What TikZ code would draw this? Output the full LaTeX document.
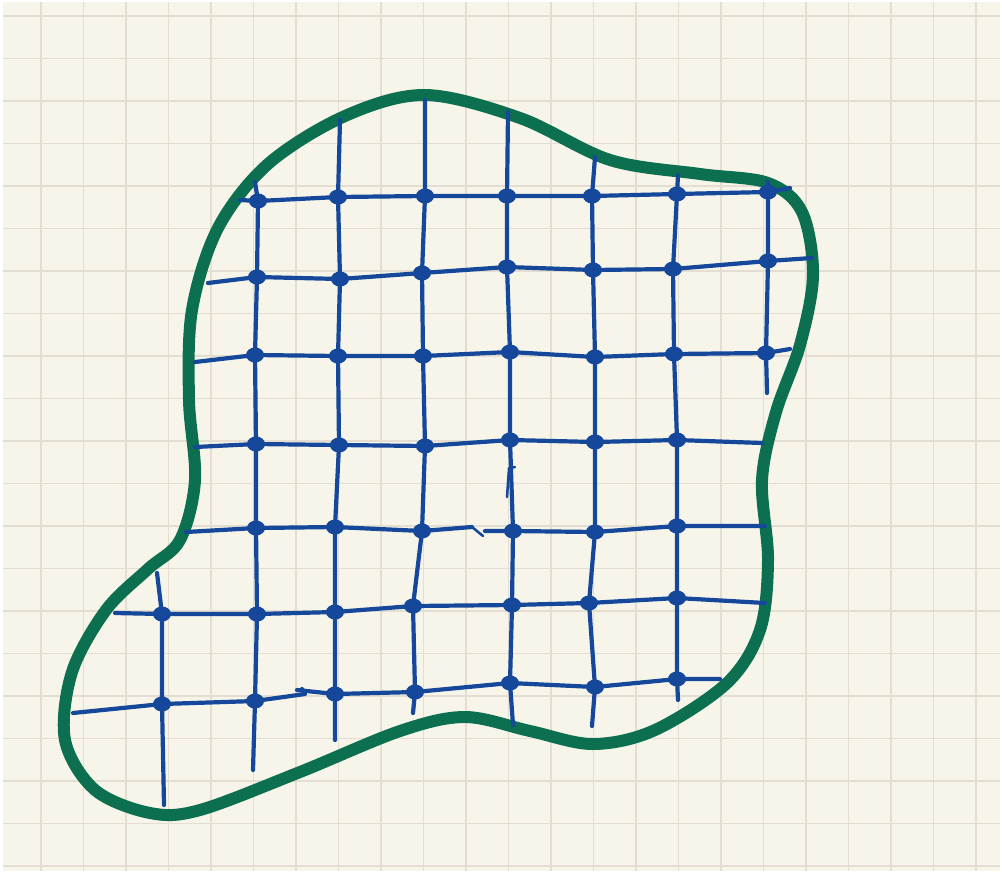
\documentclass[tikz,border=0pt]{standalone}
\definecolor{paper}{HTML}{F7F5EA}
\definecolor{gridc}{HTML}{E3DED1}
\definecolor{inkblue}{HTML}{15479A}
\definecolor{inkgreen}{HTML}{0C7050}
\tikzset{
  gridline/.style={draw=gridc, line width=0.14mm},
  net/.style={draw=inkblue, line width=0.42mm, line cap=round, line join=round},
  blob/.style={draw=inkgreen, line width=1.2mm, line join=round},
  dotmark/.style={fill=inkblue, draw=inkblue, line width=0.2mm}
}
\begin{document}
\begin{tikzpicture}[x=0.1mm,y=-0.1mm]
\useasboundingbox (0,0) rectangle (1002,874);
\fill[white] (0,0) rectangle (1002,874);
\fill[paper] (3,2) rectangle (1000,871);
\foreach \i in {0,...,22} \draw[gridline] ({41+42.5*\i},2) -- ({41+42.5*\i},871);
\foreach \i in {0,...,20} \draw[gridline] (3,{16+42.5*\i}) -- (1000,{16+42.5*\i});

% green outline
\draw[blob] plot[smooth cycle, tension=0.55] coordinates {
 (425,95) (520,118) (610,160) (700,174) (768,183) (802,212) (813,275) (800,345)
 (776,412) (762,480) (768,560) (760,630) (727,683) (655,730) (593,744) (530,731)
 (465,717) (400,731) (300,772) (200,810) (150,813) (95,790) (65,740) (72,672)
 (106,610) (148,569) (180,540) (195,480) (189,400) (192,310) (218,228) (268,164) (345,116)};

% intersection points
\coordinate (r1c1) at (258,201); \coordinate (r1c2) at (338,197); \coordinate (r1c3) at (425,196);
\coordinate (r1c4) at (507,196); \coordinate (r1c5) at (592,196); \coordinate (r1c6) at (677,194);
\coordinate (r1c7) at (768,192);
\coordinate (r2c1) at (257,277); \coordinate (r2c2) at (340,279); \coordinate (r2c3) at (422,273);
\coordinate (r2c4) at (507,267); \coordinate (r2c5) at (593,270); \coordinate (r2c6) at (673,269);
\coordinate (r2c7) at (768,261);
\coordinate (r3c1) at (255,355); \coordinate (r3c2) at (338,356); \coordinate (r3c3) at (423,356);
\coordinate (r3c4) at (510,352); \coordinate (r3c5) at (595,357); \coordinate (r3c6) at (674,354);
\coordinate (r3c7) at (766,353);
\coordinate (r4c1) at (256,444); \coordinate (r4c2) at (339,445); \coordinate (r4c3) at (425,446);
\coordinate (r4c4) at (510,440); \coordinate (r4c5) at (595,442); \coordinate (r4c6) at (677,440);
\coordinate (r5c1) at (256,528); \coordinate (r5c2) at (335,527); \coordinate (r5c3) at (422,531);
\coordinate (r5c4) at (513,531); \coordinate (r5c5) at (595,532); \coordinate (r5c6) at (677,526);
\coordinate (r6c0) at (162,614); \coordinate (r6c1) at (257,614); \coordinate (r6c2) at (335,612);
\coordinate (r6c3) at (413,606); \coordinate (r6c4) at (512,605); \coordinate (r6c5) at (589,603);
\coordinate (r6c6) at (677,598);
\coordinate (r7c0) at (162,704); \coordinate (r7c1) at (255,701); \coordinate (r7c2) at (335,694);
\coordinate (r7c3) at (415,692); \coordinate (r7c4) at (510,683); \coordinate (r7c5) at (595,687);
\coordinate (r7c6) at (677,679);

% free ends
\coordinate (r1s) at (240,200); \coordinate (r1e) at (790,188);
\coordinate (r2s) at (208,283); \coordinate (r2e) at (812,258);
\coordinate (r3s) at (195,362); \coordinate (r3e) at (790,349);
\coordinate (r4s) at (195,447); \coordinate (r4e) at (762,443);
\coordinate (r5s) at (186,532); \coordinate (r5m) at (472,527); \coordinate (r5h) at (483,536);
\coordinate (r5n) at (485,531); \coordinate (r5e) at (765,526);
\coordinate (r6s) at (115,613); \coordinate (r6e) at (765,603);
\coordinate (r7s) at (73,713); \coordinate (r7m) at (305,694); \coordinate (r7h) at (302,689);
\coordinate (r7n) at (297,690); \coordinate (r7e) at (720,679);
\coordinate (c0t) at (157,573); \coordinate (c0b) at (164,805);
\coordinate (c1t) at (255,182); \coordinate (c1b) at (253,770);
\coordinate (c2t) at (340,120); \coordinate (c2b) at (335,740);
\coordinate (c3t) at (425,100); \coordinate (c3b) at (413,713);
\coordinate (c4t) at (508,112); \coordinate (c4b) at (513,725);
\coordinate (c5t) at (595,157); \coordinate (c5b) at (592,726);
\coordinate (c6t) at (678,175); \coordinate (c6b) at (678,700);
\coordinate (c7t) at (768,182); \coordinate (c7b) at (767,393);
\coordinate (k1) at (507,497); \coordinate (k2) at (509,468); \coordinate (k3) at (515,467);

% horizontal lines
\draw[net] (r1s) -- (r1c1) -- (r1c2) -- (r1c3) -- (r1c4) -- (r1c5) -- (r1c6) -- (r1c7) -- (r1e);
\draw[net] (r2s) -- (r2c1) -- (r2c2) -- (r2c3) -- (r2c4) -- (r2c5) -- (r2c6) -- (r2c7) -- (r2e);
\draw[net] (r3s) -- (r3c1) -- (r3c2) -- (r3c3) -- (r3c4) -- (r3c5) -- (r3c6) -- (r3c7) -- (r3e);
\draw[net] (r4s) -- (r4c1) -- (r4c2) -- (r4c3) -- (r4c4) -- (r4c5) -- (r4c6) -- (r4e);
\draw[net] (r5s) -- (r5c1) -- (r5c2) -- (r5c3) -- (r5m);
\draw[net, line width=0.25mm] (r5m) -- (r5h);
\draw[net] (r5n) -- (r5c4) -- (r5c5) -- (r5c6) -- (r5e);
\draw[net] (r6s) -- (r6c0) -- (r6c1) -- (r6c2) -- (r6c3) -- (r6c4) -- (r6c5) -- (r6c6) -- (r6e);
\draw[net] (r7s) -- (r7c0) -- (r7c1) -- (r7m) -- (r7h);
\draw[net] (r7n) -- (r7c2) -- (r7c3) -- (r7c4) -- (r7c5) -- (r7c6) -- (r7e);

% vertical lines
\draw[net] (c0t) -- (r6c0) -- (r7c0) -- (c0b);
\draw[net] (c1t) -- (r1c1) -- (r2c1) -- (r3c1) -- (r4c1) -- (r5c1) -- (r6c1) -- (r7c1) -- (c1b);
\draw[net] (c2t) -- (r1c2) -- (r2c2) -- (r3c2) -- (r4c2) -- (r5c2) -- (r6c2) -- (r7c2) -- (c2b);
\draw[net] (c3t) -- (r1c3) -- (r2c3) -- (r3c3) -- (r4c3) -- (r5c3) -- (r6c3) -- (r7c3) -- (c3b);
\draw[net] (c4t) -- (r1c4) -- (r2c4) -- (r3c4) -- (r4c4) -- (r5c4) -- (r6c4) -- (r7c4) -- (c4b);
\draw[net, line width=0.25mm] (k1) -- (k2) -- (k3);
\draw[net] (c5t) -- (r1c5) -- (r2c5) -- (r3c5) -- (r4c5) -- (r5c5) -- (r6c5) -- (r7c5) -- (c5b);
\draw[net] (c6t) -- (r1c6) -- (r2c6) -- (r3c6) -- (r4c6) -- (r5c6) -- (r6c6) -- (r7c6) -- (c6b);
\draw[net] (c7t) -- (r1c7) -- (r2c7) -- (r3c7) -- (c7b);

% dots at intersections
\foreach \p in {r1c1,r1c2,r1c3,r1c4,r1c5,r1c6,r1c7,
                r2c1,r2c2,r2c3,r2c4,r2c5,r2c6,r2c7,
                r3c1,r3c2,r3c3,r3c4,r3c5,r3c6,r3c7,
                r4c1,r4c2,r4c3,r4c4,r4c5,r4c6,
                r5c1,r5c2,r5c3,r5c4,r5c5,r5c6,
                r6c0,r6c1,r6c2,r6c3,r6c4,r6c5,r6c6,
                r7c0,r7c1,r7c2,r7c3,r7c4,r7c5,r7c6}
  \filldraw[dotmark] (\p) ellipse [x radius=0.8mm, y radius=0.65mm];
\end{tikzpicture}
\end{document}
